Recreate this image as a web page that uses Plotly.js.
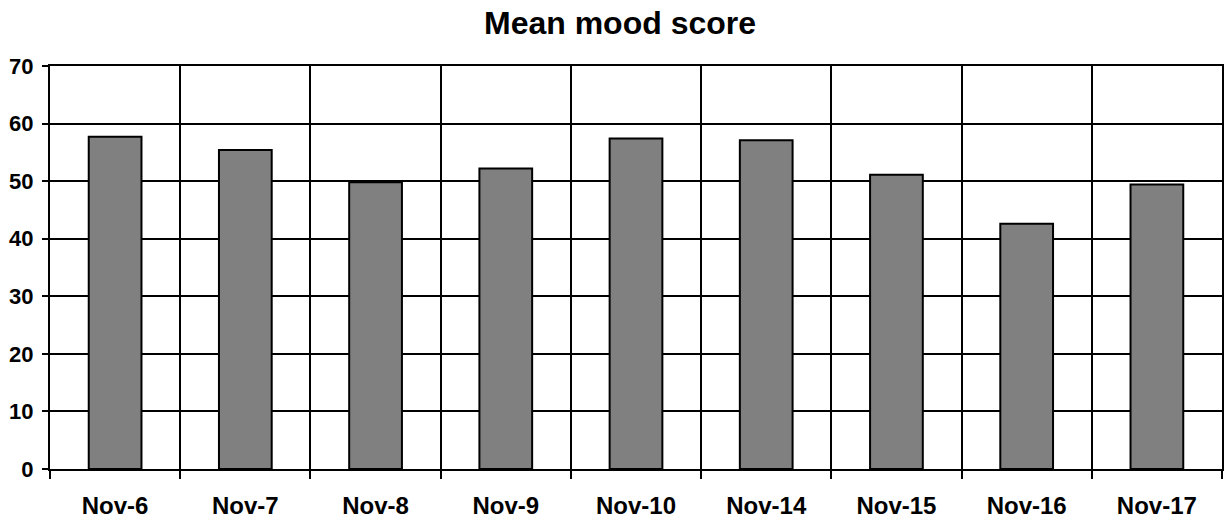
<!DOCTYPE html>
<html>
<head>
<meta charset="utf-8">
<script src="https://cdn.plot.ly/plotly-3.0.1.min.js"></script>
<style>html,body{margin:0;padding:0;background:#fff;}#chart{width:1227px;height:523px;}</style>
</head>
<body>
<div id="chart"></div>
<script>
const categories = ["Nov-6", "Nov-7", "Nov-8", "Nov-9", "Nov-10", "Nov-14", "Nov-15", "Nov-16", "Nov-17"];
const meanMood = [57.7, 55.4, 49.8, 52.2, 57.4, 57.1, 51.1, 42.6, 49.4];
const yTicks = [0, 10, 20, 30, 40, 50, 60, 70];

const font = "Liberation Sans, Arial, sans-serif";

const trace = {
  type: "bar",
  x: categories,
  y: meanMood,
  marker: {color: "#808080", line: {color: "#000000", width: 2}},
  hoverinfo: "x+y"
};

const layout = {
  width: 1227,
  height: 523,
  paper_bgcolor: "#ffffff",
  plot_bgcolor: "#ffffff",
  margin: {l: 50, r: 5, t: 66, b: 54},
  bargap: 0.595,
  showlegend: false,
  title: {
    text: "<b>Mean mood score</b>",
    font: {family: font, size: 32, color: "#000"},
    x: 620 / 1227, xref: "container", xanchor: "center",
    y: 1 - 23/523, yref: "container", yanchor: "middle"
  },
  xaxis: {
    type: "category",
    range: [-0.5, 8.5],
    tickson: "boundaries",
    ticks: "outside",
    ticklen: 8,
    tickwidth: 2,
    tickcolor: "#000",
    showgrid: true,
    gridcolor: "#000",
    gridwidth: 2,
    showline: true,
    linecolor: "#000",
    linewidth: 2,
    mirror: true,
    ticklabelstandoff: 14,
    tickfont: {family: font, size: 24, color: "#000", weight: "bold"}
  },
  yaxis: {
    range: [0, 70],
    tickvals: yTicks,
    ticktext: yTicks.map(v => "<b>" + v + "</b>"),
    ticks: "outside",
    ticklen: 6,
    tickwidth: 2,
    tickcolor: "#000",
    showgrid: true,
    gridcolor: "#000",
    gridwidth: 2,
    zeroline: false,
    showline: true,
    linecolor: "#000",
    linewidth: 2,
    mirror: true,
    ticklabelstandoff: 4,
    tickfont: {family: font, size: 22, color: "#000", weight: "bold"}
  }
};

Plotly.newPlot("chart", [trace], layout, {displayModeBar: false, staticPlot: true});
</script>
</body>
</html>
